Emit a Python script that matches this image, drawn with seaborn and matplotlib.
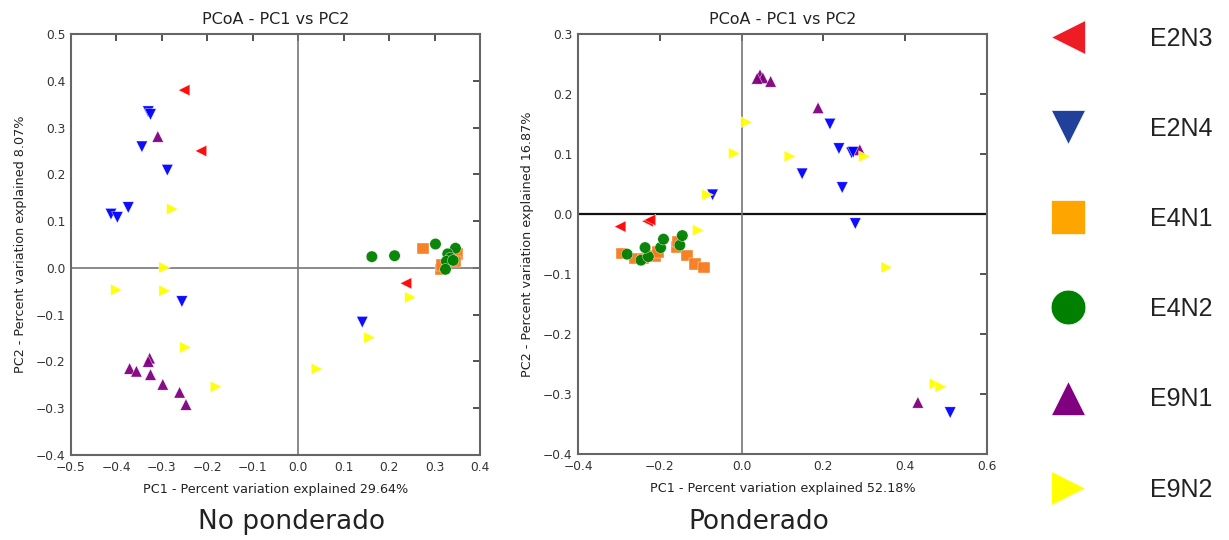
import numpy as np
import pandas as pd
import matplotlib
matplotlib.use("Agg")
import matplotlib.pyplot as plt
from matplotlib.lines import Line2D
import seaborn as sns

groups = ["E2N3", "E2N4", "E4N1", "E4N2", "E9N1", "E9N2"]
markers = {"E2N3": "<", "E2N4": "v", "E4N1": "s", "E4N2": "o", "E9N1": "^", "E9N2": ">"}
plot_colors = {"E2N3": "#ff0000", "E2N4": "#0000ff", "E4N1": "#f57a1c",
               "E4N2": "#008000", "E9N1": "#800080", "E9N2": "#ffff00"}
legend_colors = {"E2N3": "#ee1c25", "E2N4": "#21409a", "E4N1": "#ffa500",
                 "E4N2": "#008000", "E9N1": "#800080", "E9N2": "#ffff00"}

# ---- Unweighted (No ponderado) ----
u_E2N3_x = [-0.251, -0.214, 0.237]
u_E2N3_y = [0.380, 0.250, -0.033]
u_E2N4_x = [-0.330, -0.325, -0.344, -0.288, -0.374, -0.412, -0.398, -0.256, 0.141]
u_E2N4_y = [0.334, 0.328, 0.259, 0.209, 0.129, 0.115, 0.108, -0.072, -0.116]
u_E4N1_x = [0.275, 0.349, 0.313, 0.346, 0.316]
u_E4N1_y = [0.041, 0.030, -0.003, 0.014, 0.006]
u_E4N2_x = [0.162, 0.212, 0.302, 0.346, 0.329, 0.335, 0.326, 0.341, 0.324]
u_E4N2_y = [0.024, 0.026, 0.051, 0.042, 0.030, 0.021, 0.014, 0.016, -0.003]
u_E9N1_x = [-0.309, -0.327, -0.330, -0.371, -0.356, -0.325, -0.298, -0.261, -0.247]
u_E9N1_y = [0.281, -0.193, -0.200, -0.215, -0.221, -0.228, -0.249, -0.266, -0.292]
u_E9N2_x = [-0.277, -0.294, -0.400, -0.294, -0.248, -0.181, 0.247, 0.157, 0.041]
u_E9N2_y = [0.126, 0.001, -0.047, -0.049, -0.170, -0.254, -0.063, -0.149, -0.216]

# ---- Weighted (Ponderado) ----
w_E2N3_x = [-0.297, -0.230, -0.224]
w_E2N3_y = [-0.021, -0.012, -0.010]
w_E2N4_x = [0.216, 0.238, 0.269, 0.273, 0.148, 0.246, 0.278, -0.071, 0.510]
w_E2N4_y = [0.150, 0.109, 0.102, 0.103, 0.067, 0.044, -0.016, 0.032, -0.331]
w_E4N1_x = [-0.293, -0.261, -0.240, -0.212, -0.204, -0.159, -0.155, -0.134, -0.114, -0.092]
w_E4N1_y = [-0.066, -0.074, -0.074, -0.070, -0.063, -0.055, -0.046, -0.069, -0.083, -0.089]
w_E4N2_x = [-0.280, -0.246, -0.228, -0.236, -0.198, -0.191, -0.151, -0.145]
w_E4N2_y = [-0.067, -0.077, -0.071, -0.056, -0.056, -0.042, -0.052, -0.036]
w_E9N1_x = [0.045, 0.052, 0.038, 0.071, 0.187, 0.289, 0.431]
w_E9N1_y = [0.232, 0.227, 0.226, 0.221, 0.177, 0.107, -0.314]
w_E9N2_x = [0.012, -0.018, 0.118, 0.300, -0.083, -0.106, 0.355, 0.473, 0.487]
w_E9N2_y = [0.153, 0.101, 0.096, 0.096, 0.032, -0.027, -0.089, -0.283, -0.288]

u_xticks = ["-0.5", "-0.4", "-0.3", "-0.2", "-0.1", "0.0", "0.1", "0.2", "0.3", "0.4"]
u_yticks = ["-0.4", "-0.3", "-0.2", "-0.1", "0.0", "0.1", "0.2", "0.3", "0.4", "0.5"]
w_xticks = ["-0.4", "-0.2", "0.0", "0.2", "0.4", "0.6"]
w_yticks = ["-0.4", "-0.3", "-0.2", "-0.1", "0.0", "0.1", "0.2", "0.3"]

x_label_u = "PC1 - Percent variation explained 29.64%"
y_label_u = "PC2 - Percent variation explained 8.07%"
x_label_w = "PC1 - Percent variation explained 52.18%"
y_label_w = "PC2 - Percent variation explained 16.87%"
title = "PCoA - PC1 vs PC2"
captions = ["No ponderado", "Ponderado"]


def build(prefix):
    g = globals()
    rows = []
    for grp in groups:
        xs = g[f"{prefix}_{grp}_x"]
        ys = g[f"{prefix}_{grp}_y"]
        for a, b in zip(xs, ys):
            rows.append({"group": grp, "x": a, "y": b})
    return pd.DataFrame(rows)


df_u = build("u")
df_w = build("w")

sns.set_style("white")
plt.rcParams["font.family"] = ["DejaVu Sans"]

fig = plt.figure(figsize=(12.29, 5.40), dpi=100)
ax1 = fig.add_axes([71 / 1229, 1 - 455 / 540, 409 / 1229, 421 / 540])
ax2 = fig.add_axes([578 / 1229, 1 - 454 / 540, 409 / 1229, 420 / 540])


def draw(ax, df, xt, yt, xlab, ylab, hline_color, hline_lw):
    ax.axhline(0, color=hline_color, lw=hline_lw, zorder=1)
    ax.axvline(0, color="#777777", lw=1.2, zorder=1)
    sns.scatterplot(data=df, x="x", y="y", hue="group", style="group",
                    hue_order=groups, style_order=groups,
                    palette=plot_colors, markers=markers, s=68,
                    edgecolor="white", linewidth=0.3, alpha=0.95,
                    legend=False, ax=ax, zorder=3)
    xv = [float(t) for t in xt]
    yv = [float(t) for t in yt]
    ax.set_xlim(xv[0], xv[-1])
    ax.set_ylim(yv[0], yv[-1])
    ax.set_xticks(xv)
    ax.set_yticks(yv)
    ax.set_xticklabels([t.replace("-", "\u2212") for t in xt])
    ax.set_yticklabels([t.replace("-", "\u2212") for t in yt])
    ax.tick_params(direction="in", length=5, width=1.2, top=True, right=True,
                   labelsize=8.8, colors="#333333", pad=4)
    for sp in ax.spines.values():
        sp.set_color("#666666")
        sp.set_linewidth(1.5)
    ax.set_xlabel(xlab, fontsize=9.2, color="#222222", labelpad=7)
    ax.set_ylabel(ylab, fontsize=9.2, color="#222222", labelpad=6)
    ax.set_title(title, fontsize=11.5, color="#222222", pad=7)


draw(ax1, df_u, u_xticks, u_yticks, x_label_u, y_label_u, "#777777", 1.2)
draw(ax2, df_w, w_xticks, w_yticks, x_label_w, y_label_w, "#111111", 1.6)

fig.text(292 / 1229, 1 - 522 / 540, captions[0], ha="center", va="center",
         fontsize=19, color="#222222")
fig.text(759 / 1229, 1 - 522 / 540, captions[1], ha="center", va="center",
         fontsize=19, color="#222222")

handles = [Line2D([], [], linestyle="none", marker=markers[g], markersize=25,
                  markerfacecolor=legend_colors[g], markeredgecolor="white",
                  markeredgewidth=0.5) for g in groups]
leg = fig.legend(handles, groups, loc="upper left", bbox_to_anchor=(1020 / 1229, 1 - 4 / 540),
                 frameon=False, handlelength=2.0, handletextpad=2.28,
                 labelspacing=2.65, prop={"family": "Liberation Sans", "size": 18})
for t in leg.get_texts():
    t.set_color("#222222")

fig.savefig("out.png", dpi=100)
